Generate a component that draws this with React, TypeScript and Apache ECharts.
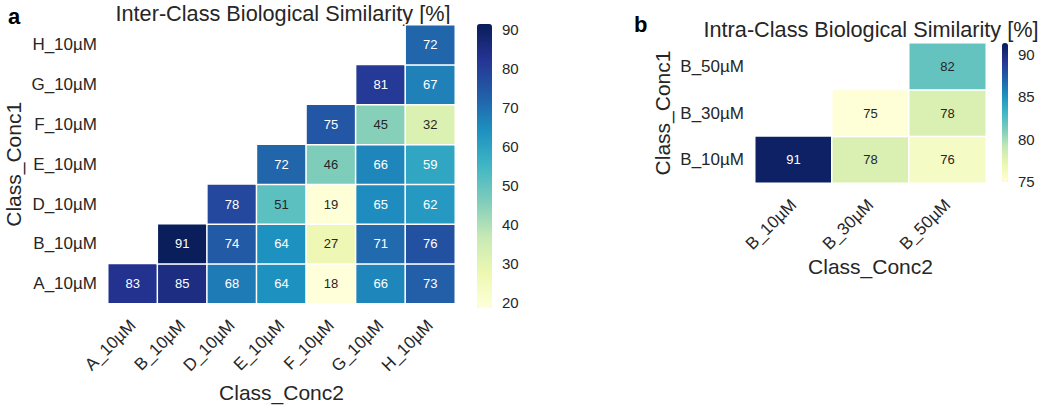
import React, { useEffect, useRef } from "react";
import * as echarts from "echarts";

// Panel a: Inter-class similarity (rows = Class_Conc1 bottom→top, cols = Class_Conc2)
const interCats = ["A_10µM", "B_10µM", "D_10µM", "E_10µM", "F_10µM", "G_10µM", "H_10µM"];
const interRowA = [83, 85, 68, 64, 18, 66, 73];
const interRowB = [null, 91, 74, 64, 27, 71, 76];
const interRowD = [null, null, 78, 51, 19, 65, 62];
const interRowE = [null, null, null, 72, 46, 66, 59];
const interRowF = [null, null, null, null, 75, 45, 32];
const interRowG = [null, null, null, null, null, 81, 67];
const interRowH = [null, null, null, null, null, null, 72];
const interRange = [18.5, 91.4];
const interTicks = [20, 30, 40, 50, 60, 70, 80, 90];

// Panel b: Intra-class similarity
const intraCats = ["B_10µM", "B_30µM", "B_50µM"];
const intraRow10 = [91, 78, 76];
const intraRow30 = [null, 75, 78];
const intraRow50 = [null, null, 82];
const intraRange = [74.9, 91.4];
const intraTicks = [75, 80, 85, 90];

const YlGnBu = ["#ffffd9", "#edf8b1", "#c7e9b4", "#7fcdbb", "#41b6c4", "#1d91c0", "#225ea8", "#253494", "#081d58"];

const FONT = "'Liberation Sans', Arial, Helvetica, sans-serif";
const TXT = "#262626";

function hexToRgb(h: string) {
  return [parseInt(h.slice(1, 3), 16), parseInt(h.slice(3, 5), 16), parseInt(h.slice(5, 7), 16)];
}
function colorAt(v: number, range: number[]) {
  let t = (v - range[0]) / (range[1] - range[0]);
  t = Math.max(0, Math.min(1, t));
  const p = t * (YlGnBu.length - 1);
  const i = Math.min(Math.floor(p), YlGnBu.length - 2);
  const f = p - i;
  const a = hexToRgb(YlGnBu[i]);
  const b = hexToRgb(YlGnBu[i + 1]);
  return a.map((c, k) => c + (b[k] - c) * f);
}
function textColorFor(v: number, range: number[]) {
  const rgb = colorAt(v, range).map((c) => {
    const s = c / 255;
    return s <= 0.03928 ? s / 12.92 : Math.pow((s + 0.055) / 1.055, 2.4);
  });
  const lum = 0.2126 * rgb[0] + 0.7152 * rgb[1] + 0.0722 * rgb[2];
  return lum > 0.408 ? TXT : "#ffffff";
}
function buildData(rows: (number | null)[][], range: number[]) {
  const out: any[] = [];
  rows.forEach((row, y) => {
    row.forEach((v, x) => {
      if (v === null) return;
      out.push({ value: [x, y, v], label: { color: textColorFor(v, range) } });
    });
  });
  return out;
}

export default function App() {
  const ref = useRef<HTMLDivElement>(null);
  useEffect(() => {
    if (!ref.current) return;
    const chart = echarts.init(ref.current, undefined, { renderer: "svg" });
    const interData = buildData(
      [interRowA, interRowB, interRowD, interRowE, interRowF, interRowG, interRowH],
      interRange
    );
    const intraData = buildData([intraRow10, intraRow30, intraRow50], intraRange);

    const catX = (data: string[], gridIndex: number, gap: number) => ({
      type: "category",
      gridIndex,
      data,
      axisLine: { show: false },
      axisTick: { show: false },
      splitLine: { show: false },
      axisLabel: { rotate: 45, fontSize: 17, color: TXT, fontFamily: FONT, margin: 19, interval: 0 },
      name: "Class_Conc2",
      nameLocation: "middle",
      nameGap: gap,
      nameTextStyle: { fontSize: 21, color: TXT, fontFamily: FONT },
    });
    const catY = (data: string[], gridIndex: number, gap: number) => ({
      type: "category",
      gridIndex,
      data,
      axisLine: { show: false },
      axisTick: { show: false },
      splitLine: { show: false },
      axisLabel: { fontSize: 17, color: TXT, fontFamily: FONT, margin: 11, interval: 0 },
      name: "Class_Conc1",
      nameLocation: "middle",
      nameGap: gap,
      nameTextStyle: { fontSize: 21, color: TXT, fontFamily: FONT },
    });
    const cbAxis = (gridIndex: number, range: number[], ticks: number[]) => ({
      type: "value",
      gridIndex,
      position: "right",
      min: range[0],
      max: range[1],
      axisLine: { show: false },
      axisTick: { show: false },
      splitLine: { show: false },
      axisLabel: { customValues: ticks, fontSize: 15, color: TXT, fontFamily: FONT, margin: 10 },
    });

    chart.setOption({
      animation: false,
      backgroundColor: "#ffffff",
      textStyle: { fontFamily: FONT },
      grid: [
        { left: 108, top: 25, width: 347, height: 281 },
        { left: 755, top: 43, width: 231, height: 140 },
        { left: 477, top: 24, width: 15, height: 284 },
        { left: 1002, top: 43, width: 6, height: 139 },
      ],
      xAxis: [
        catX(interCats, 0, 70),
        catX(intraCats, 1, 66),
        { type: "category", gridIndex: 2, show: false, data: [""] },
        { type: "category", gridIndex: 3, show: false, data: [""] },
      ],
      yAxis: [
        catY(interCats, 0, 84),
        catY(intraCats, 1, 82),
        cbAxis(2, interRange, interTicks),
        cbAxis(3, intraRange, intraTicks),
      ],
      visualMap: [
        {
          type: "continuous",
          seriesIndex: 0,
          min: interRange[0],
          max: interRange[1],
          inRange: { color: YlGnBu },
          left: 477,
          top: 24,
          itemWidth: 15,
          itemHeight: 284,
          padding: 0,
          calculable: false,
          hoverLink: false,
          orient: "vertical",
        },
        {
          type: "continuous",
          seriesIndex: 1,
          min: intraRange[0],
          max: intraRange[1],
          inRange: { color: YlGnBu },
          left: 1002,
          top: 43,
          itemWidth: 6,
          itemHeight: 139,
          padding: 0,
          calculable: false,
          hoverLink: false,
          orient: "vertical",
        },
      ],
      graphic: [
        { type: "text", x: 8, y: 16, style: { text: "a", font: `bold 22px ${FONT}`, fill: "#000", verticalAlign: "middle" } },
        { type: "text", x: 634, y: 24, style: { text: "b", font: `bold 22px ${FONT}`, fill: "#000", verticalAlign: "middle" } },
        {
          type: "text",
          x: 283,
          y: 13,
          style: { text: "Inter-Class Biological Similarity [%]", font: `21.7px ${FONT}`, fill: TXT, align: "center", verticalAlign: "middle" },
        },
        {
          type: "text",
          x: 871,
          y: 29.5,
          style: { text: "Intra-Class Biological Similarity [%]", font: `21.7px ${FONT}`, fill: TXT, align: "center", verticalAlign: "middle" },
        },
      ],
      series: [
        {
          type: "heatmap",
          xAxisIndex: 0,
          yAxisIndex: 0,
          data: interData,
          label: { show: true, fontSize: 13, fontFamily: FONT },
          itemStyle: { borderColor: "#ffffff", borderWidth: 1.5 },
          emphasis: { disabled: true },
        },
        {
          type: "heatmap",
          xAxisIndex: 1,
          yAxisIndex: 1,
          data: intraData,
          label: { show: true, fontSize: 13, fontFamily: FONT },
          itemStyle: { borderColor: "#ffffff", borderWidth: 1.5 },
          emphasis: { disabled: true },
        },
      ],
    });
    return () => chart.dispose();
  }, []);
  return <div ref={ref} style={{ position: "fixed", left: 0, top: 0, width: 1038, height: 408 }} />;
}
